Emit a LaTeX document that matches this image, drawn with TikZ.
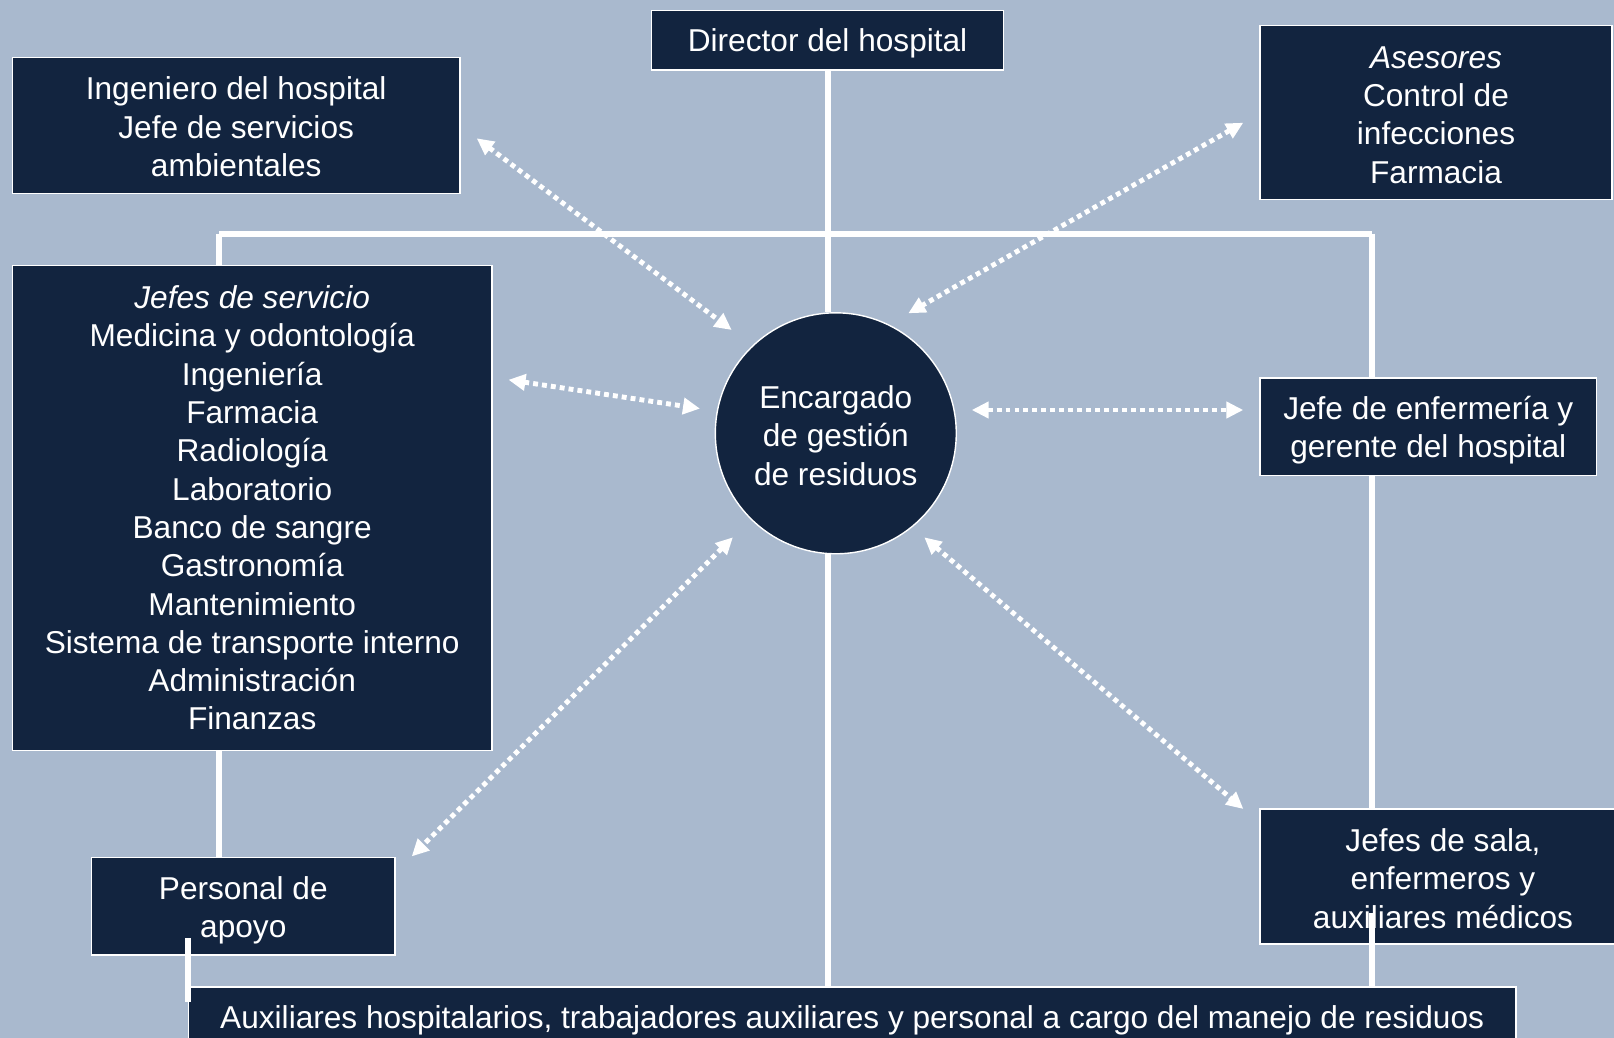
\documentclass[tikz,border=0pt]{standalone}
\usepackage{fontspec}
\setmainfont{Liberation Sans}
\usetikzlibrary{arrows.meta}
\definecolor{fondo}{HTML}{A9B9CE}
\definecolor{azul}{HTML}{12243F}
\newcommand{\alto}[1]{\rule{0pt}{#1}}

\begin{document}
\begin{tikzpicture}[x=0.02cm, y=-0.02cm,
        caja/.style={draw=white, line width=0.8pt, fill=azul, text=white, inner sep=0pt, align=center,
            font=\fontsize{18}{21.8}\selectfont},
        linea/.style={white, line width=3.3pt},
        punta/.tip={Triangle[length=0.34cm, width=0.32cm]},
        flecha/.style={white, line width=2.8pt, dash pattern=on 2.8pt off 2.3pt, punta-punta}]

        \fill[fondo] (0,0) rectangle (1614,1038);
        \useasboundingbox (0,0) rectangle (1614,1038);

        \node[caja, minimum width=7.04cm, minimum height=1.19cm] (director) at (827.6, 40.2) {\alto{16.7pt}Director del hospital};
        \node[caja, minimum width=8.95cm, minimum height=2.72cm] (ingeniero) at (236.2, 125.6) {\alto{14.4pt}Ingeniero del hospital\\Jefe de servicios\\ambientales};
        \node[caja, minimum width=7.04cm, minimum height=3.48cm] (asesores) at (1436, 112.7) {\alto{15pt}\textit{Asesores}\\Control de\\infecciones\\Farmacia};
        \node[caja, minimum width=9.59cm, minimum height=9.70cm] (servicio) at (252.2, 508) {\textit{Jefes de servicio}\\Medicina y odontología\\Ingeniería\\Farmacia\\Radiología\\Laboratorio\\Banco de sangre\\Gastronomía\\Mantenimiento\\Sistema de transporte interno\\Administración\\Finanzas};
        \node[caja, circle, minimum size=4.82cm] (encargado) at (835.8, 433.3) {\alto{15.5pt}Encargado\\de gestión\\de residuos};
        \node[caja, minimum width=6.73cm, minimum height=1.95cm] (enfermeria) at (1428.3, 426.7) {\alto{17.3pt}Jefe de enfermería y\\gerente del hospital};
        \node[caja, minimum width=7.32cm, minimum height=2.70cm] (sala) at (1443, 876.5) {\alto{15.5pt}Jefes de sala,\\enfermeros y\\auxiliares médicos};
        \node[caja, minimum width=6.07cm, minimum height=1.95cm] (apoyo) at (243.3, 906.2) {\alto{17.9pt}Personal de\\apoyo};
        \node[caja, minimum width=26.55cm, minimum height=1.16cm] (auxiliares) at (852.2, 1016) {\alto{17.8pt}Auxiliares hospitalarios, trabajadores auxiliares y personal a cargo del manejo de residuos};

        % lineas de mando
        \coordinate (izq) at (219, 233.7);
        \coordinate (der) at (1372, 233.7);
        \coordinate (sala-in) at (1372, 913);
        \coordinate (apoyo-in) at (188, 938);
        \coordinate (aux-in) at (188, 1002);

        \draw[linea] (director.south) -- (director.south |- encargado.north);
        \draw[linea] (izq) -- (der);
        \draw[linea] (izq) -- (servicio.north -| izq);
        \draw[linea] (der) -- (enfermeria.north -| der);
        \draw[linea] (enfermeria.south -| der) -- (sala.north -| der);
        \draw[linea] (servicio.south -| izq) -- (apoyo.north -| izq);
        \draw[linea] (director.south |- encargado.south) -- (director.south |- auxiliares.north);
        \draw[linea] (sala-in) -- (auxiliares.north -| sala-in);
        \draw[linea] (apoyo-in) -- (aux-in);

        % comunicacion
        \coordinate (f1a) at (476.7, 138.3);  \coordinate (f1b) at (731.7, 330);
        \coordinate (f2a) at (1243.3, 122.7); \coordinate (f2b) at (908.3, 313.3);
        \coordinate (f3a) at (508.5, 379.8);  \coordinate (f3b) at (700, 408.6);
        \coordinate (f4a) at (971.7, 410);    \coordinate (f4b) at (1243.3, 410);
        \coordinate (f5a) at (732.9, 537.3);  \coordinate (f5b) at (411.7, 856.4);
        \coordinate (f6a) at (924.3, 537.3);  \coordinate (f6b) at (1243.4, 809);

        \draw[flecha] (f1a) -- (f1b);
        \draw[flecha] (f2a) -- (f2b);
        \draw[flecha] (f3a) -- (f3b);
        \draw[flecha] (f4a) -- (f4b);
        \draw[flecha] (f5a) -- (f5b);
        \draw[flecha] (f6a) -- (f6b);

    \end{tikzpicture}
\end{document}
